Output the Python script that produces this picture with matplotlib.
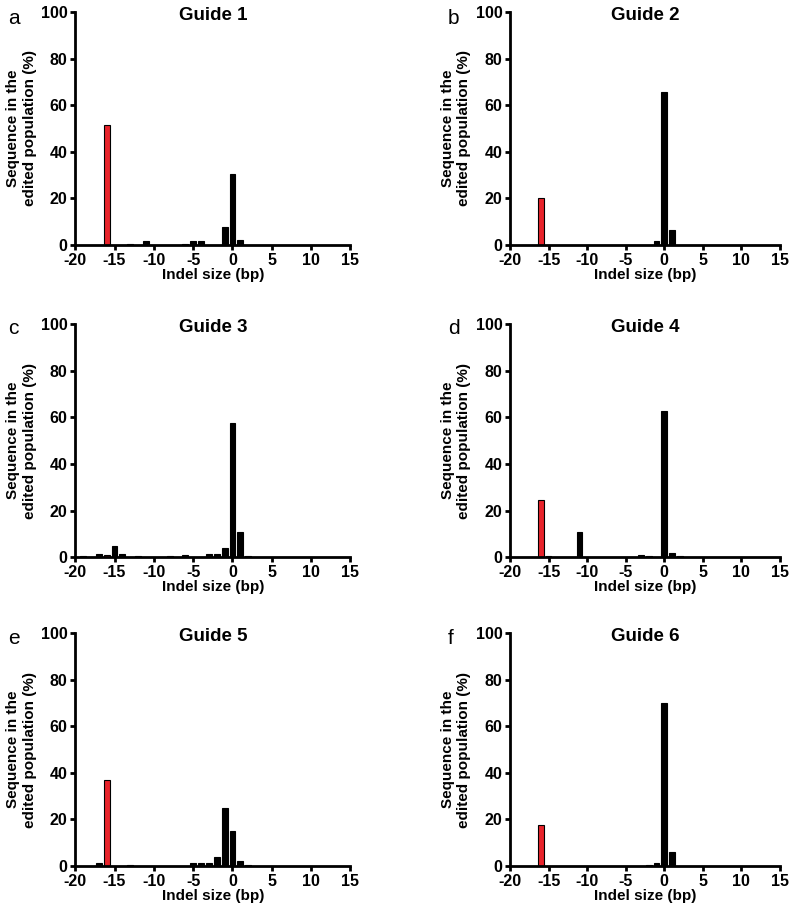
import matplotlib
matplotlib.use('Agg')
from matplotlib import pyplot as plt

plt.rcParams['font.family'] = ['Liberation Sans', 'DejaVu Sans']
plt.rcParams['font.weight'] = 'bold'
plt.rcParams['axes.unicode_minus'] = False

# indel size (bp) -> % of edited population
g1_x = [-16, -13, -11, -6, -5, -4, -1, 0, 1]
g1_y = [51.3, 0.6, 1.5, 0.6, 1.5, 1.5, 7.6, 30.4, 2.3]

g2_x = [-16, -1, 0, 1]
g2_y = [20.3, 1.7, 65.5, 6.3]

g3_x = [-19, -17, -16, -15, -14, -12, -8, -6, -3, -2, -1, 0, 1, 2]
g3_y = [0.6, 1.2, 1.0, 4.8, 1.2, 0.6, 0.6, 1.0, 1.2, 1.2, 3.8, 57.4, 10.8, 0.6]

g4_x = [-16, -15, -11, -3, -2, 0, 1, 2]
g4_y = [24.6, 0.6, 10.8, 1.0, 0.7, 62.7, 1.8, 0.6]

g5_x = [-17, -16, -13, -5, -4, -3, -2, -1, 0, 1, 2]
g5_y = [1.2, 36.9, 0.6, 1.2, 1.5, 1.5, 3.8, 24.9, 15.0, 2.1, 0.6]

g6_x = [-16, -2, -1, 0, 1]
g6_y = [17.8, 0.6, 1.1, 69.8, 6.0]

guides = [(g1_x, g1_y), (g2_x, g2_y), (g3_x, g3_y),
          (g4_x, g4_y), (g5_x, g5_y), (g6_x, g6_y)]
titles = ['Guide 1', 'Guide 2', 'Guide 3', 'Guide 4', 'Guide 5', 'Guide 6']
letters = ['a', 'b', 'c', 'd', 'e', 'f']
highlight = -16  # the red bar

fig = plt.figure(figsize=(8, 9.21), dpi=100)

lefts = [0.094, 0.6375]
widths = [0.344, 0.3375]
bottoms = [0.734, 0.395, 0.0597]
height = 0.253

for i, (xs, ys) in enumerate(guides):
    row, col = i // 2, i % 2
    ax = fig.add_axes([lefts[col], bottoms[row], widths[col], height])
    colors = ['#e8232b' if x == highlight else 'black' for x in xs]
    ax.bar(xs, ys, width=0.75, color=colors, edgecolor='black', linewidth=0.8)
    ax.set_xlim(-20, 15)
    ax.set_ylim(0, 100)
    ax.set_xticks(range(-20, 16, 5))
    ax.set_yticks(range(0, 101, 20))
    for s in ['top', 'right']:
        ax.spines[s].set_visible(False)
    for s in ['left', 'bottom']:
        ax.spines[s].set_linewidth(2)
    ax.tick_params(width=2, length=3.5, labelsize=11.5, pad=2)
    for lab in ax.get_xticklabels() + ax.get_yticklabels():
        lab.set_fontweight('bold')
    ax.set_xlabel('Indel size (bp)', fontsize=11, fontweight='bold', labelpad=0)
    ax.set_ylabel('Sequence in the\nedited population (%)', fontsize=11,
                  fontweight='bold', labelpad=3)
    ax.text(0.5, 0.985, titles[i], transform=ax.transAxes, ha='center',
            va='center', fontsize=13.5, fontweight='bold')
    fx = 0.01 if col == 0 else 0.56
    fy = 1 - (18 + [0, 310, 621][row]) / 921
    fig.text(fx, fy, letters[i], fontsize=15, fontweight='normal', va='center')

plt.savefig('out.png', dpi=100)
